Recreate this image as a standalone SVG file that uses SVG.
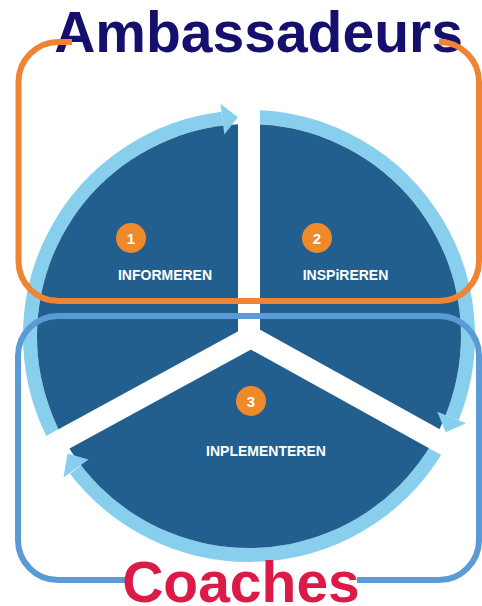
<svg xmlns="http://www.w3.org/2000/svg" width="482" height="606" viewBox="0 0 482 606">
<style>
.ring{fill:none;stroke:#88cfee;stroke-width:14}
.arrow{fill:#88cfee}
.gap{stroke:#ffffff;stroke-width:22;stroke-linecap:butt}
.badge{fill:#ef8a2a}
.num{font-family:"Liberation Sans",Arial,sans-serif;font-weight:bold;font-size:15px;fill:#ffffff;text-anchor:middle}
.lbl{font-family:"Liberation Sans",Arial,sans-serif;font-weight:bold;font-size:14px;fill:#ffffff;text-anchor:middle}
.title{font-family:"Liberation Sans",Arial,sans-serif;font-weight:bold;font-size:57px;text-anchor:middle}
.frame{fill:none;stroke-width:6}
</style>
<rect width="482" height="606" fill="#ffffff"/>
<g id="cycle">
  <g id="rings">
    <path class="ring" d="M 57.5 442.2 A 219 219 0 0 1 222.3 118.6"/>
    <path class="ring" d="M 249 117 A 219 219 0 0 1 452.2 417.7"/>
    <path class="ring" d="M 440.5 442.2 A 219 219 0 0 1 75.5 469.5"/>
  </g>
  <circle cx="249" cy="336" r="212" fill="#225f8e"/>
  <g id="gaps">
    <line class="gap" x1="249" y1="336" x2="249" y2="90"/>
    <line class="gap" x1="249" y1="336" x2="476.4" y2="462"/>
    <line class="gap" x1="249" y1="338" x2="21.6" y2="462"/>
    <circle cx="249" cy="336" r="11" fill="#ffffff"/>
  </g>
  <g id="arrowheads">
    <polygon class="arrow" points="224.3,134.5 220.5,103.8 237.9,117.3"/>
    <polygon class="arrow" points="437.3,411.7 466.1,423.3 445.7,432.3"/>
    <polygon class="arrow" points="88.5,459.5 63.5,477.5 67.5,453.5"/>
  </g>
</g>
<g id="node-informeren">
  <circle class="badge" cx="131" cy="238" r="15"/>
  <text class="num" x="131" y="243.5">1</text>
  <text class="lbl" x="165" y="280">INFORMEREN</text>
</g>
<g id="node-inspireren">
  <circle class="badge" cx="317" cy="238" r="15"/>
  <text class="num" x="317" y="243.5">2</text>
  <text class="lbl" x="345.5" y="280">INSPiREREN</text>
</g>
<g id="node-inplementeren">
  <circle class="badge" cx="251" cy="401" r="15"/>
  <text class="num" x="251" y="406.5">3</text>
  <text class="lbl" x="266" y="456">INPLEMENTEREN</text>
</g>
<g id="ambassadeurs">
  <text class="title" x="258.5" y="52" fill="#150f6e">Ambassadeurs</text>
  <path class="frame" stroke="#ef8434" d="M 72 42 H 58.5 A 40 40 0 0 0 18.5 82 V 261 A 40 40 0 0 0 58.5 301 H 439 A 40 40 0 0 0 479 261 V 82 A 40 40 0 0 0 439 42 H 443"/>
</g>
<g id="coaches">
  <path class="frame" stroke="#5b9bd5" d="M 125 580 H 58 A 40 40 0 0 1 18 540 V 356 A 40 40 0 0 1 58 316 H 439 A 40 40 0 0 1 479 356 V 540 A 40 40 0 0 1 439 580 H 357"/>
  <text class="title" x="241" y="602" fill="#dc1a48">Coaches</text>
</g>
</svg>
